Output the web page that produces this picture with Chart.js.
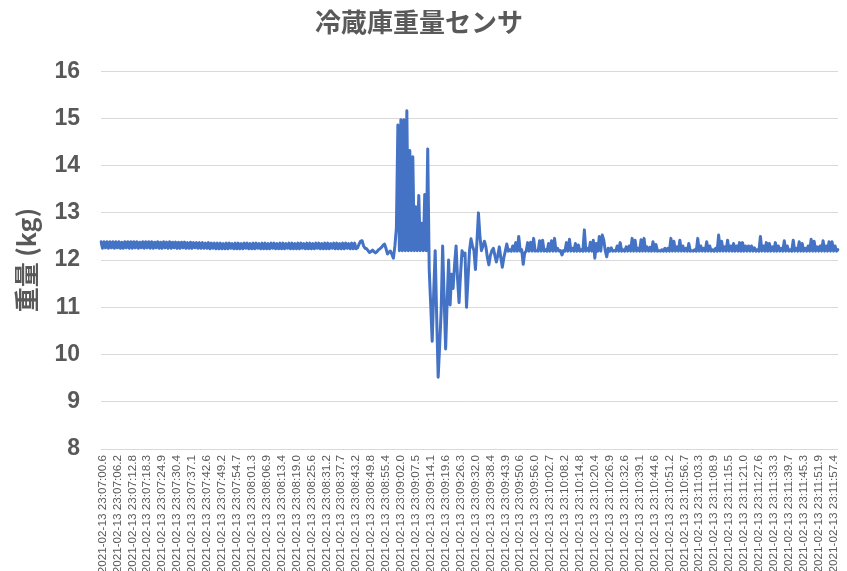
<!DOCTYPE html>
<html>
<head>
<meta charset="utf-8">
<script src="https://cdn.jsdelivr.net/npm/chart.js@4"></script>
<style>
  html, body { margin: 0; padding: 0; background: #fff; }
  #wrap { width: 847px; height: 571px; position: relative; }
</style>
</head>
<body>
<div id="wrap"><canvas id="c"></canvas></div>
<script>
// Fridge weight sensor log, one reading per sample.
const DATE = "2021-02-13";

// the category labels Excel actually prints (every 10th sample)
const stampTimes = [
  "23:07:00.6", "23:07:06.2", "23:07:12.8", "23:07:18.3", "23:07:24.9", "23:07:30.4", "23:07:37.1", "23:07:42.6", "23:07:49.2", "23:07:54.7",
  "23:08:01.3", "23:08:06.9", "23:08:13.4", "23:08:19.0", "23:08:25.6", "23:08:31.2", "23:08:37.7", "23:08:43.2", "23:08:49.8", "23:08:55.4",
  "23:09:02.0", "23:09:07.5", "23:09:14.1", "23:09:19.6", "23:09:26.3", "23:09:32.0", "23:09:38.4", "23:09:43.9", "23:09:50.6", "23:09:56.0",
  "23:10:02.7", "23:10:08.2", "23:10:14.8", "23:10:20.4", "23:10:26.9", "23:10:32.6", "23:10:39.1", "23:10:44.6", "23:10:51.2", "23:10:56.7",
  "23:11:03.3", "23:11:08.9", "23:11:15.5", "23:11:21.0", "23:11:27.6", "23:11:33.3", "23:11:39.7", "23:11:45.3", "23:11:51.9", "23:11:57.4",
];
const LABEL_EVERY = 10;
const LABEL_FIRST = 1;

// weight in kg
const weights = [
  // idle, sensor jitter
  12.39, 12.25, 12.39, 12.26, 12.39, 12.25, 12.39, 12.26, 12.39, 12.25,
  12.39, 12.26, 12.39, 12.25, 12.38, 12.25, 12.39, 12.26, 12.39, 12.25,
  12.39, 12.25, 12.39, 12.26, 12.39, 12.25, 12.38, 12.26, 12.39, 12.25,
  12.39, 12.26, 12.39, 12.25, 12.39, 12.25, 12.38, 12.26, 12.39, 12.25,
  12.38, 12.25, 12.39, 12.26, 12.38, 12.25, 12.39, 12.25, 12.38, 12.26,
  12.38, 12.25, 12.38, 12.25, 12.38, 12.26, 12.38, 12.25, 12.37, 12.25,
  12.38, 12.25, 12.37, 12.26, 12.37, 12.25, 12.37, 12.25, 12.37, 12.25,
  12.36, 12.25, 12.37, 12.24, 12.36, 12.25, 12.36, 12.24, 12.36, 12.24,
  12.36, 12.24, 12.35, 12.24, 12.36, 12.24, 12.36, 12.25, 12.35, 12.24,
  12.36, 12.24, 12.36, 12.24, 12.35, 12.24, 12.36, 12.25, 12.36, 12.24,
  12.35, 12.24, 12.36, 12.24, 12.36, 12.25, 12.35, 12.24, 12.36, 12.24,
  12.36, 12.24, 12.35, 12.24, 12.36, 12.25, 12.36, 12.24, 12.35, 12.24,
  12.36, 12.24, 12.36, 12.24, 12.35, 12.25, 12.36, 12.24, 12.36, 12.24,
  12.35, 12.24, 12.36, 12.24, 12.36, 12.25, 12.35, 12.24, 12.36, 12.24,
  12.36, 12.24, 12.35, 12.24, 12.36, 12.25, 12.36, 12.24, 12.35, 12.24,
  12.36, 12.24, 12.36, 12.24, 12.35, 12.25, 12.36, 12.24, 12.36, 12.24,
  12.35, 12.24, 12.36, 12.24, 12.36, 12.25, 12.35, 12.24, 12.36, 12.24,
  12.36, 12.24,
  // door opened
  12.26, 12.34, 12.40, 12.41, 12.30, 12.25, 12.24, 12.20, 12.16, 12.18,
  12.21, 12.18, 12.15, 12.18, 12.22, 12.24, 12.27, 12.31, 12.34, 12.25,
  12.13, 12.17, 12.19, 12.12, 12.04, 12.30, 12.68,
  // items going in and out
  14.86, 12.20, 14.97, 12.20, 14.97, 12.20, 15.16, 12.20, 14.32, 12.20,
  14.19, 12.20, 13.13, 12.20, 13.37, 12.20, 12.78, 12.20, 13.39, 12.20,
  14.35,
  11.80, 11.05, 10.28, 11.30, 12.20, 10.80, 9.52, 10.20, 10.92, 12.30,
  11.20, 10.12, 11.10, 12.00, 11.05, 11.70, 11.40, 11.90, 12.30, 11.60,
  11.10, 11.70, 12.20, 12.10, 12.15, 11.00, 11.60, 12.20, 12.45, 12.30,
  12.20, 11.80, 12.40, 13.00, 12.50, 12.20, 12.30, 12.40, 12.28, 12.05,
  11.90, 12.10, 12.20, 12.25, 12.10, 11.96, 12.10, 12.28, 12.05, 11.85,
  12.05,
  // settled again, compressor vibration
  12.19, 12.34, 12.19, 12.22, 12.19, 12.30, 12.19, 12.37, 12.19, 12.50,
  12.19, 12.22, 11.91, 12.15, 12.19, 12.37, 12.19, 12.38, 12.19, 12.46,
  12.19, 12.20, 12.19, 12.41, 12.19, 12.42, 12.19, 12.22, 12.19, 12.35,
  12.19, 12.41, 12.19, 12.46, 12.19, 12.25, 12.19, 12.20, 12.11, 12.20,
  12.19, 12.37, 12.19, 12.44, 12.19, 12.25, 12.19, 12.35, 12.19, 12.32,
  12.19, 12.22, 12.19, 12.64, 12.19, 12.25, 12.19, 12.38, 12.19, 12.42,
  12.04, 12.35, 12.19, 12.50, 12.19, 12.53, 12.42, 12.20, 12.07, 12.25,
  12.19, 12.26, 12.19, 12.20, 12.19, 12.30, 12.19, 12.37, 12.19, 12.22,
  12.19, 12.28, 12.19, 12.30, 12.19, 12.46, 12.19, 12.42, 12.19, 12.25,
  12.19, 12.43, 12.19, 12.46, 12.19, 12.28, 12.19, 12.27, 12.19, 12.39,
  12.19, 12.33, 12.19, 12.20, 12.19, 12.22, 12.19, 12.25, 12.19, 12.25,
  12.19, 12.46, 12.19, 12.40, 12.19, 12.28, 12.19, 12.42, 12.19, 12.30,
  12.19, 12.25, 12.19, 12.35, 12.19, 12.20, 12.19, 12.22, 12.19, 12.46,
  12.19, 12.30, 12.19, 12.25, 12.19, 12.39, 12.19, 12.30, 12.19, 12.22,
  12.19, 12.25, 12.19, 12.53, 12.19, 12.40, 12.19, 12.28, 12.19, 12.42,
  12.19, 12.30, 12.19, 12.35, 12.19, 12.30, 12.19, 12.37, 12.19, 12.37,
  12.19, 12.30, 12.19, 12.30, 12.19, 12.30, 12.19, 12.26, 12.19, 12.22,
  12.19, 12.50, 12.19, 12.30, 12.19, 12.37, 12.19, 12.35, 12.19, 12.28,
  12.19, 12.37, 12.19, 12.30, 12.19, 12.25, 12.19, 12.41, 12.19, 12.30,
  12.19, 12.22, 12.19, 12.42, 12.19, 12.25, 12.19, 12.39, 12.19, 12.35,
  12.19, 12.25, 12.19, 12.30, 12.19, 12.44, 12.19, 12.40, 12.19, 12.28,
  12.19, 12.30, 12.19, 12.41, 12.19, 12.30, 12.19, 12.39, 12.19, 12.39,
  12.19, 12.30, 12.19, 12.22,
];

const GRAY = "#595959";
const labels = weights.map((_, i) => {
  const k = i - LABEL_FIRST;
  return k >= 0 && k % LABEL_EVERY === 0 && stampTimes[k / LABEL_EVERY]
    ? DATE + " " + stampTimes[k / LABEL_EVERY]
    : "";
});

new Chart(document.getElementById("c"), {
  type: "line",
  data: {
    labels,
    datasets: [{
      data: weights,
      borderColor: "#4472c4",
      borderWidth: 3,
      borderJoinStyle: "round",
      borderCapStyle: "round",
      pointRadius: 0,
      tension: 0,
      fill: false,
    }],
  },
  options: {
    responsive: true,
    maintainAspectRatio: false,
    animation: false,
    layout: { padding: { left: 0, right: 9, top: 0, bottom: 0 } },
    plugins: {
      legend: { display: false },
      tooltip: { enabled: false },
      title: {
        display: true,
        text: "冷蔵庫重量センサ",
        color: GRAY,
        font: { family: "'Noto Sans CJK JP', sans-serif", size: 26, weight: "bold" },
        padding: { top: 7, bottom: 33 },
      },
    },
    scales: {
      x: {
        type: "category",
        grid: { display: false, drawTicks: false },
        border: { display: false },
        ticks: {
          autoSkip: false,
          maxRotation: 90,
          minRotation: 90,
          padding: 6,
          color: GRAY,
          font: { family: "'Liberation Sans', sans-serif", size: 11.7 },
        },
        afterFit: (s) => {
          s.height = 122;
          s.paddingLeft = 0;
          s.paddingRight = 0;
        },
      },
      y: {
        min: 8,
        max: 16,
        grid: { color: "#d9d9d9", lineWidth: 1, drawTicks: false },
        border: { display: false },
        ticks: {
          stepSize: 1,
          padding: 21,
          color: GRAY,
          font: { family: "'Liberation Sans', sans-serif", size: 23, weight: "bold" },
        },
        title: {
          display: true,
          text: "重量 (kg)",
          color: GRAY,
          font: { family: "'Noto Sans CJK JP', sans-serif", size: 25, weight: "bold" },
          padding: { top: 11, bottom: 0 },
        },
        afterFit: (s) => { s.width = 101; },
      },
    },
  },
});
</script>
</body>
</html>
